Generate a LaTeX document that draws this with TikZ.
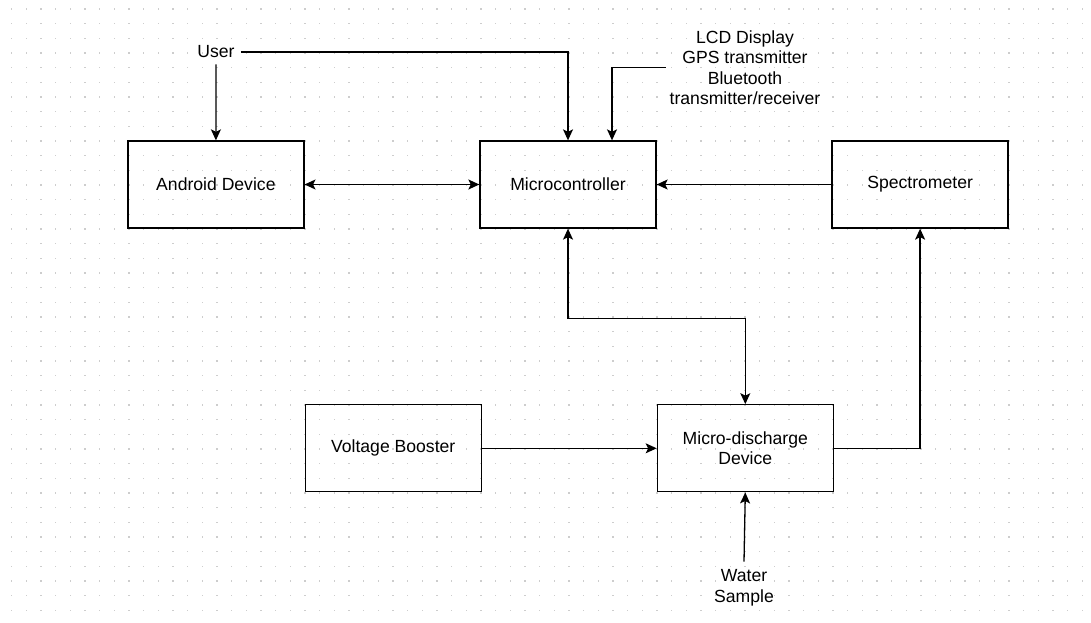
\documentclass[tikz,border=0pt]{standalone}
\usepackage{fontspec}
\setmainfont{Liberation Sans}
\usepackage{tikz}
\usetikzlibrary{positioning,arrows.meta}
\definecolor{griddot}{RGB}{205,205,205}

\begin{document}
\begin{tikzpicture}[x=1pt, y=-1pt, node distance=174.8pt, every node/.style={font=\fontsize{17.6}{20.5}\selectfont}, blk/.style={draw, line width=1.3pt, minimum width=176pt, minimum height=87pt, inner sep=0pt, align=center}, lbl/.style={inner sep=6pt, align=center}, >={Stealth[length=11pt,width=10pt,inset=2.5pt]}]
\useasboundingbox (0,0) rectangle (1091,623);
% dotted grid
\foreach \i in {0,...,74} \foreach \j in {0,...,42} \fill[griddot] (11+14.667*\i,8.3+14.667*\j) rectangle +(1.3,1.3);
\node[blk] (mcu) at (568,184.5) {Microcontroller};
\node[blk, left=of mcu] (android) {Android Device};
\node[blk, right=of mcu] (spec) {Spectrometer};
\node[blk, below right=175.5pt and 0pt of mcu] (mdd) {Micro-discharge\\Device};
\node[blk, left=of mdd] (booster) {Voltage Booster};
\node[lbl] (user) at (216,52) {User};
\node[lbl, inner sep=4pt] (lcd) at (745,67.5) {LCD Display\\GPS transmitter\\Bluetooth\\transmitter/receiver};
\node[lbl, inner sep=8pt] (water) at (744,588) {Water\\Sample};
\coordinate (mcuin) at ([xshift=44pt]mcu.north);
\draw[->, line width=1.3pt] (user.south) -- (android.north); \draw[->, line width=1.3pt] (user.east) -| (mcu.north); \draw[->, line width=1.3pt] (lcd.west) -| (mcuin);
\draw[<->, line width=1.3pt] (android) -- (mcu); \draw[->, line width=1.3pt] (spec) -- (mcu);
\draw[<->, line width=1.3pt] (mcu.south) -- ++(0,90) -| (mdd.north);
\draw[->, line width=1.3pt] (booster) -- (mdd); \draw[->, line width=1.3pt] (mdd.east) -| (spec.south); \draw[->, line width=1.3pt] (water.north) -- (mdd.south);
\end{tikzpicture}
\end{document}
